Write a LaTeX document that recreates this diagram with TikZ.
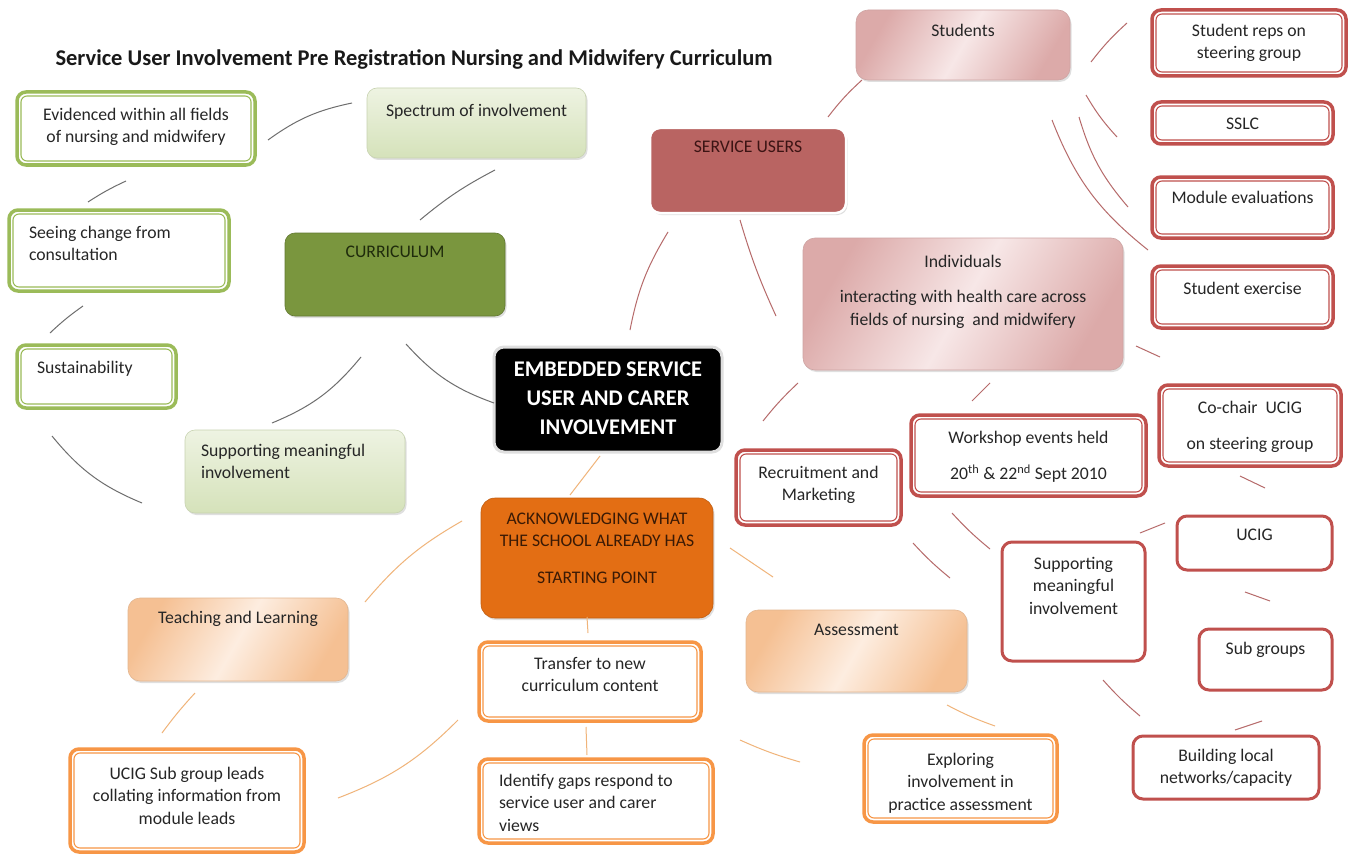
\documentclass[tikz,border=0pt]{standalone}
\usepackage{fontspec}
\setmainfont{Carlito}
\usetikzlibrary{shadows}
\definecolor{grnB}{HTML}{9BBB59}
\definecolor{grnD}{HTML}{7A963E}
\definecolor{grnL}{HTML}{D5E2BA}
\definecolor{grnLL}{HTML}{EEF3E2}
\definecolor{grnT}{HTML}{1F2B0C}
\definecolor{redB}{HTML}{C0504D}
\definecolor{redF}{HTML}{B96462}
\definecolor{redT}{HTML}{3C1414}
\definecolor{pinkD}{HTML}{DCAAA9}
\definecolor{pinkL}{HTML}{F7E7E7}
\definecolor{orgF}{HTML}{E36E14}
\definecolor{orgB}{HTML}{F79646}
\definecolor{orgT}{HTML}{3A1A05}
\definecolor{peachD}{HTML}{F5C093}
\definecolor{peachL}{HTML}{FDEDE0}
\definecolor{lineG}{HTML}{6E6E6E}
\definecolor{lineR}{HTML}{B66A6A}
\definecolor{lineO}{HTML}{F0B47A}
\tikzset{
  base/.style={font=\fontsize{17.7}{22.5}\selectfont, text=black!85},
  dbl/.style={base, draw=#1, line width=3.5pt, fill=white, rounded corners=9pt,
    path picture={\draw[#1, line width=1.1pt, rounded corners=6pt]
      ([shift={(4pt,-4pt)}]path picture bounding box.north west) rectangle
      ([shift={(-4pt,4pt)}]path picture bounding box.south east);}},
  sgl/.style={base, draw=redB, line width=3pt, fill=white, rounded corners=10pt},
  shad/.style={drop shadow={opacity=0.25, shadow xshift=1.5pt, shadow yshift=-2pt}},
  lgreen/.style={base, shad, top color=grnLL, bottom color=grnL, draw=grnL!85!gray, line width=0.6pt, rounded corners=10pt},
  pinkbox/.style={base, shad, left color=pinkD, right color=pinkD, middle color=pinkL, shading angle=60, draw=pinkD!85!gray, line width=0.6pt, rounded corners=12pt},
  peachbox/.style={base, shad, left color=peachD, right color=peachD, middle color=peachL, shading angle=60, draw=peachD!85!gray, line width=0.6pt, rounded corners=12pt},
  curbox/.style={base, shad, fill=grnD, draw=grnD!80!black, line width=0.6pt, rounded corners=10pt, text=grnT},
  subox/.style={base, shad, fill=redF, draw=white, line width=2.5pt, rounded corners=10pt, text=redT},
  ackbox/.style={base, shad, fill=orgF, draw=orgF!85!black, line width=0.6pt, rounded corners=14pt, text=orgT},
  centbox/.style={fill=black, draw=gray!25, line width=3pt, rounded corners=10pt, text=white, font=\bfseries\fontsize{22.4}{28.8}\selectfont},
  gline/.style={draw=lineG, line width=1pt},
  rline/.style={draw=lineR, line width=1pt},
  oline/.style={draw=lineO, line width=1pt}
}
\newcommand\bx[8]{%
  \node[#1, inner sep=0pt, minimum width={#5-#3}, minimum height={#6-#4}]
    (#2) at ({(#3+#5)/2},{(#4+#6)/2})
    {\parbox[c][\dimexpr #6pt-#4pt\relax][t]{\dimexpr #5pt-#3pt-16pt\relax}{\vspace*{#7pt}#8}};}
\newcommand\seg[7]{%
  \coordinate (#2a) at (#3,#4); \coordinate (#2b) at (#5,#6);
  \draw[#1] (#2a) to[bend left=#7] (#2b);}
\newcommand\Lft[1]{\raggedright\leftskip=#1pt\relax}
\begin{document}
\begin{tikzpicture}[x=1pt,y=-1pt]
\fill[white] (0,0) rectangle (1352,856);
\useasboundingbox (0,0) rectangle (1352,856);

\node[anchor=base west, font=\bfseries\fontsize{22.5}{26}\selectfont, text=black!90] (title) at (52,66)
  {Service User Involvement Pre Registration Nursing and Midwifery Curriculum};

% ---------- green group
\bx{lgreen}{spec}{367}{88}{586}{158}{16}{\centering Spectrum of involvement}
\bx{dbl=grnB}{evid}{17}{92}{255}{165}{16}{\centering Evidenced within all fields\\of nursing and midwifery}
\bx{dbl=grnB}{seeing}{9}{210}{229}{291}{16}{\Lft{12}Seeing change from\\consultation}
\bx{curbox}{curr}{285}{233}{505}{316}{13}{\centering CURRICULUM}
\bx{dbl=grnB}{sust}{17}{345}{176}{408}{16}{\Lft{12}Sustainability}
\bx{lgreen}{supg}{185}{430}{405}{513}{14}{\Lft{8}Supporting meaningful\\involvement}

% ---------- centre
\bx{centbox}{centre}{494}{347}{722}{452}{15}{\centering EMBEDDED SERVICE\\USER AND CARER\\INVOLVEMENT}

% ---------- red group
\bx{pinkbox}{stud}{856}{10}{1070}{80}{14}{\centering Students}
\bx{subox}{su}{650}{128}{846}{213}{13}{\centering SERVICE USERS}
\bx{pinkbox}{indiv}{803}{238}{1123}{370}{17}{\centering Individuals\\[13pt]interacting with health care across\\fields of nursing\ \ and midwifery}
\bx{dbl=redB}{reps}{1152}{10}{1346}{76}{14}{\centering Student reps on\\steering group}
\bx{dbl=redB}{sslc}{1152}{102}{1333}{144}{16}{\centering SSLC}
\bx{dbl=redB}{modev}{1152}{177}{1333}{238}{14}{\centering Module evaluations}
\bx{dbl=redB}{sexer}{1152}{266}{1333}{328}{16}{\centering Student exercise}
\bx{dbl=redB}{cochair}{1159}{385}{1341}{466}{16}{\centering Co-chair\ \ UCIG\\[14pt]on steering group}
\bx{dbl=redB}{workshop}{911}{415}{1146}{496}{16}{\centering Workshop events held\\[14pt]20\textsuperscript{th} \& 22\textsuperscript{nd} Sept 2010}
\bx{dbl=redB}{recruit}{736}{450}{901}{525}{16}{\centering Recruitment and\\Marketing}
\bx{sgl}{supr}{1002}{542}{1145}{661}{15}{\centering Supporting\\meaningful\\involvement}
\bx{sgl}{ucig}{1177}{516}{1332}{570}{13}{\centering UCIG}
\bx{sgl}{subg}{1199}{629}{1332}{690}{13}{\centering Sub groups}
\bx{sgl}{build}{1133}{736}{1319}{799}{13}{\centering Building local\\networks/capacity}

% ---------- orange group
\bx{ackbox}{ack}{481}{498}{713}{618}{15}{\centering ACKNOWLEDGING WHAT\\THE SCHOOL ALREADY HAS\\[14pt]STARTING POINT}
\bx{peachbox}{teach}{128}{598}{348}{681}{13}{\centering Teaching and Learning}
\bx{peachbox}{assess}{746}{610}{967}{692}{14}{\centering Assessment}
\bx{dbl=orgB}{transfer}{479}{642}{701}{721}{15}{\centering Transfer to new\\curriculum content}
\bx{dbl=orgB}{gaps}{479}{759}{713}{843}{15}{\Lft{12}Identify gaps respond to\\service user and carer\\views}
\bx{dbl=orgB}{ucigsub}{70}{749}{304}{852}{18}{\centering UCIG Sub group leads\\collating information from\\module leads}
\bx{dbl=orgB}{explore}{864}{735}{1057}{822}{18}{\centering Exploring\\involvement in\\practice assessment}

% ---------- connectors (free-floating in the original)
\seg{gline}{g1}{268}{140}{352}{103}{12}
\seg{gline}{g2}{88}{202}{126}{181}{4}
\seg{gline}{g3}{50}{333}{83}{306}{4}
\seg{gline}{g4}{420}{220}{495}{170}{6}
\seg{gline}{g5}{406}{344}{494}{403}{-14}
\seg{gline}{g6}{272}{423}{361}{357}{-14}
\seg{gline}{g7}{52}{436}{142}{503}{-14}

\seg{rline}{r1}{828}{117}{862}{80}{5}
\seg{rline}{r2}{630}{330}{668}{232}{10}
\seg{rline}{r3}{740}{220}{776}{316}{-4}
\seg{rline}{r4}{1091}{62}{1127}{23}{5}
\seg{rline}{r5}{1086}{95}{1117}{137}{-6}
\seg{rline}{r6}{1079}{117}{1128}{207}{-12}
\seg{rline}{r7}{1052}{120}{1148}{250}{-15}
\seg{rline}{r8}{1136}{346}{1160}{357}{0}
\seg{rline}{r9}{763}{421}{798}{383}{4}
\seg{rline}{r10}{972}{401}{990}{383}{0}
\seg{rline}{r11}{1240}{476}{1265}{488}{0}
\seg{rline}{r12}{1140}{533}{1165}{523}{0}
\seg{rline}{r13}{952}{513}{990}{549}{-4}
\seg{rline}{r14}{913}{543}{950}{578}{-4}
\seg{rline}{r15}{1245}{592}{1270}{601}{0}
\seg{rline}{r16}{1103}{680}{1140}{716}{-4}
\seg{rline}{r17}{1235}{730}{1262}{721}{0}

\seg{oline}{o1}{570}{495}{600}{456}{0}
\seg{oline}{o2}{365}{602}{462}{521}{10}
\seg{oline}{o3}{730}{548}{773}{577}{0}
\seg{oline}{o4}{587}{617}{588}{633}{0}
\seg{oline}{o5}{586}{727}{587}{755}{0}
\seg{oline}{o6}{162}{733}{195}{693}{3}
\seg{oline}{o7}{338}{798}{458}{720}{-12}
\seg{oline}{o8}{740}{740}{800}{762}{-4}
\seg{oline}{o9}{947}{705}{995}{726}{-4}
\end{tikzpicture}
\end{document}
